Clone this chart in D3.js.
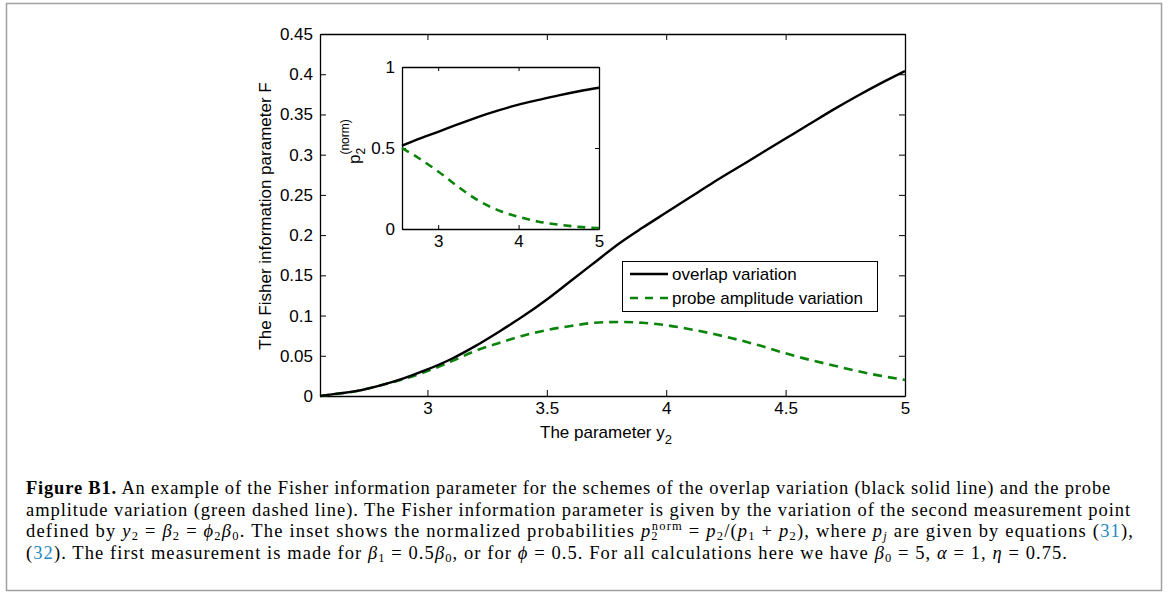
<!DOCTYPE html>
<html>
<head>
<meta charset="utf-8">
<script src="https://cdn.jsdelivr.net/npm/d3@7"></script>
<style>
  body { margin: 0; background: #fff; }
  svg { display: block; }
</style>
</head>
<body>
<svg id="fig" width="1168" height="594"></svg>
<script>
// main plot data, F against y2
const yParam = [2.55, 2.6, 2.7, 2.8, 2.9, 3.0, 3.1, 3.2, 3.3, 3.4, 3.5, 3.6, 3.7, 3.8, 3.9,
                4.0, 4.1, 4.2, 4.3, 4.4, 4.5, 4.6, 4.7, 4.8, 4.9, 5.0];
const overlapF = [0, 0.002, 0.006, 0.013, 0.022, 0.033, 0.046, 0.062, 0.080, 0.099, 0.120, 0.143, 0.166, 0.189, 0.209,
                  0.228, 0.247, 0.266, 0.284, 0.302, 0.320, 0.338, 0.356, 0.373, 0.389, 0.404];
const probeF = [0, 0.002, 0.006, 0.013, 0.021, 0.031, 0.043, 0.056, 0.066, 0.075, 0.082, 0.087, 0.091, 0.092, 0.091,
                0.088, 0.083, 0.077, 0.070, 0.062, 0.053, 0.045, 0.038, 0.031, 0.025, 0.020];

// inset data, normalized probability p2
const insetParam = [2.55, 2.75, 3.0, 3.25, 3.5, 3.75, 4.0, 4.25, 4.5, 4.75, 5.0];
const overlapP = [0.515, 0.555, 0.600, 0.647, 0.692, 0.732, 0.768, 0.797, 0.825, 0.850, 0.872];
const probeP = [0.500, 0.440, 0.355, 0.260, 0.175, 0.115, 0.075, 0.045, 0.027, 0.013, 0.006];

// ticks
const xTicks = [3, 3.5, 4, 4.5, 5];
const yTicks = [0, 0.05, 0.1, 0.15, 0.2, 0.25, 0.3, 0.35, 0.4, 0.45];
const insetXTicks = [3, 4, 5];
const insetYTicks = [0, 0.5, 1];

const legendNames = ["overlap variation", "probe amplitude variation"];

const svg = d3.select("#fig");
const sans = "'Liberation Sans', Arial, sans-serif";
const serif = "'Liberation Serif', 'Times New Roman', serif";
const green = "#0b840b";

// outer frame
svg.append("rect")
    .attr("x", 6.5).attr("y", 3.5).attr("width", 1155).attr("height", 587)
    .attr("fill", "none").attr("stroke", "#a0a0a0").attr("stroke-width", 1.5);

// scales
const x = d3.scaleLinear().domain([2.55, 5]).range([320, 905]);
const y = d3.scaleLinear().domain([0, 0.45]).range([396, 34]);
const xi = d3.scaleLinear().domain([2.55, 5]).range([402, 599]);
const yi = d3.scaleLinear().domain([0, 1]).range([229, 67]);

function drawAxes(g, sx, sy, xt, yt, fsize, tick) {
    const fmt = d => String(d);
    g.append("g").attr("transform", `translate(0,${sy.range()[0]})`)
        .call(d3.axisBottom(sx).tickValues(xt).tickFormat(fmt).tickSizeInner(-tick).tickSizeOuter(0).tickPadding(6));
    g.append("g").attr("transform", `translate(0,${sy.range()[1]})`)
        .call(d3.axisTop(sx).tickValues(xt).tickFormat("").tickSizeInner(-tick).tickSizeOuter(0));
    g.append("g").attr("transform", `translate(${sx.range()[0]},0)`)
        .call(d3.axisLeft(sy).tickValues(yt).tickFormat(fmt).tickSizeInner(-tick).tickSizeOuter(0).tickPadding(7));
    g.append("g").attr("transform", `translate(${sx.range()[1]},0)`)
        .call(d3.axisRight(sy).tickValues(yt).tickFormat("").tickSizeInner(-tick).tickSizeOuter(0));
    g.selectAll(".domain").attr("stroke", "#000").attr("stroke-width", 1.3);
    g.selectAll(".tick line").attr("stroke", "#000");
    g.selectAll(".tick text").attr("font-family", sans).attr("font-size", fsize).attr("fill", "#000");
}

const main = svg.append("g");
drawAxes(main, x, y, xTicks, yTicks, 17, 6);

const line = d3.line().x(d => x(d[0])).y(d => y(d[1])).curve(d3.curveMonotoneX);
main.append("path")
    .datum(d3.zip(yParam, probeF))
    .attr("d", line).attr("fill", "none")
    .attr("stroke", green).attr("stroke-width", 2.6).attr("stroke-dasharray", "9,6");
main.append("path")
    .datum(d3.zip(yParam, overlapF))
    .attr("d", line).attr("fill", "none")
    .attr("stroke", "#000").attr("stroke-width", 2.4);

// axis labels
main.append("text")
    .attr("x", 606).attr("y", 438).attr("text-anchor", "middle")
    .attr("font-family", sans).attr("font-size", 17)
    .text("The parameter y")
    .append("tspan").attr("dy", 6).attr("font-size", 13).text("2");
main.append("text")
    .attr("transform", "translate(271,216) rotate(-90)").attr("text-anchor", "middle")
    .attr("font-family", sans).attr("font-size", 17)
    .text("The Fisher information parameter F");

// legend
const leg = main.append("g");
leg.append("rect")
    .attr("x", 622.5).attr("y", 261.5).attr("width", 255).attr("height", 50)
    .attr("fill", "#fff").attr("stroke", "#000").attr("stroke-width", 1);
legendNames.forEach((name, i) => {
    const ly = 274 + i * 24;
    leg.append("line")
        .attr("x1", 630).attr("x2", 668).attr("y1", ly).attr("y2", ly)
        .attr("stroke", i === 0 ? "#000" : green).attr("stroke-width", 2.4)
        .attr("stroke-dasharray", i === 0 ? null : "8,7");
    leg.append("text")
        .attr("x", 672).attr("y", ly + 6)
        .attr("font-family", sans).attr("font-size", 17).text(name);
});

// inset
const inset = svg.append("g");
inset.append("rect").attr("x", xi.range()[0]).attr("y", yi.range()[1])
    .attr("width", xi.range()[1] - xi.range()[0]).attr("height", yi.range()[0] - yi.range()[1])
    .attr("fill", "#fff");
drawAxes(inset, xi, yi, insetXTicks, insetYTicks, 17, 4);
const lineI = d3.line().x(d => xi(d[0])).y(d => yi(d[1])).curve(d3.curveMonotoneX);
inset.append("path")
    .datum(d3.zip(insetParam, probeP))
    .attr("d", lineI).attr("fill", "none")
    .attr("stroke", green).attr("stroke-width", 2.6).attr("stroke-dasharray", "8,6");
inset.append("path")
    .datum(d3.zip(insetParam, overlapP))
    .attr("d", lineI).attr("fill", "none")
    .attr("stroke", "#000").attr("stroke-width", 2.4);

const il = inset.append("text")
    .attr("transform", "translate(360,164) rotate(-90)")
    .attr("font-family", sans).attr("font-size", 17);
il.append("tspan").text("p");
il.append("tspan").attr("dy", 5).attr("font-size", 12).text("2");
il.append("tspan").attr("dx", -6.7).attr("dy", -16).attr("font-size", 12).text("(norm)");

// caption
const cap = svg.append("g").attr("font-family", serif).attr("font-size", 18.5).attr("fill", "#000");
const link = "#1f8ac0";
function capLine(yy, target, parts) {
    const t = cap.append("text").attr("x", 26).attr("y", yy);
    let shift = 0;
    parts.forEach(p => {
        const s = t.append("tspan").text(p.t);
        const want = p.sub ? 3 : p.sup ? -7.5 : 0;
        if (want !== shift) s.attr("dy", want - shift);
        shift = want;
        if (p.b) s.attr("font-weight", "bold");
        if (p.i) s.attr("font-style", "italic");
        if (p.c) s.attr("fill", p.c);
        if (p.sub || p.sup) s.attr("font-size", 12.5);
        if (p.dx) s.attr("dx", p.dx);
    });
    // spread the letters so the line ends where the reference line ends
    const len = t.node().getComputedTextLength();
    const chars = parts.map(p => p.t).join("").length;
    t.attr("letter-spacing", (target - 26 - len) / chars);
}
capLine(494, 1111, [{t: "Figure B1.", b: true},
    {t: " An example of the Fisher information parameter for the schemes of the overlap variation (black solid line) and the probe"}]);
capLine(515.5, 1131, [{t: "amplitude variation (green dashed line). The Fisher information parameter is given by the variation of the second measurement point"}]);
capLine(537, 1141, [{t: "defined by "}, {t: "y", i: true}, {t: "2", sub: true}, {t: " = "}, {t: "β", i: true}, {t: "2", sub: true},
    {t: " = "}, {t: "ϕ", i: true}, {t: "2", sub: true}, {t: "β", i: true}, {t: "0", sub: true},
    {t: ". The inset shows the normalized probabilities "}, {t: "p", i: true}, {t: "2", sub: true},
    {t: "norm", sup: true, dx: -7}, {t: " = "}, {t: "p", i: true}, {t: "2", sub: true}, {t: "/("},
    {t: "p", i: true}, {t: "1", sub: true}, {t: " + "}, {t: "p", i: true}, {t: "2", sub: true},
    {t: "), where "}, {t: "p", i: true}, {t: "j", i: true, sub: true}, {t: " are given by equations ("},
    {t: "31", c: link}, {t: "),"}]);
capLine(558.5, 1068, [{t: "("}, {t: "32", c: link}, {t: "). The first measurement is made for "}, {t: "β", i: true}, {t: "1", sub: true},
    {t: " = 0.5"}, {t: "β", i: true}, {t: "0", sub: true}, {t: ", or for "}, {t: "ϕ", i: true},
    {t: " = 0.5. For all calculations here we have "}, {t: "β", i: true}, {t: "0", sub: true}, {t: " = 5, "},
    {t: "α", i: true}, {t: " = 1, "}, {t: "η", i: true}, {t: " = 0.75."}]);
</script>
</body>
</html>
